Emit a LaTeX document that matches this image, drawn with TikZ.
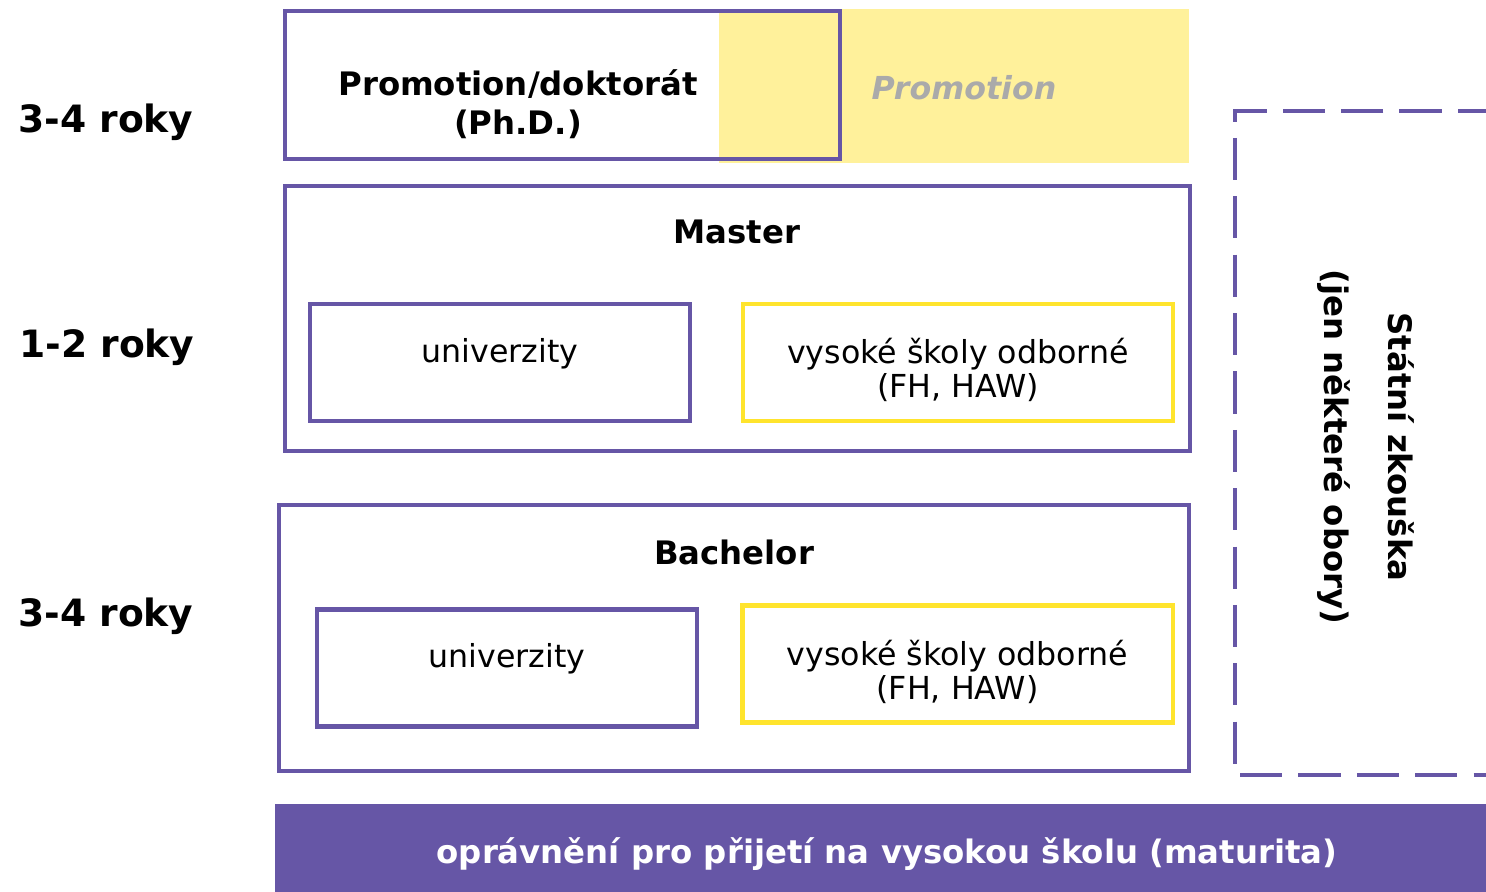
\documentclass[tikz,border=0pt]{standalone}
\usepackage{fontspec}
\setmainfont{DejaVu Sans}
\usetikzlibrary{positioning}
\definecolor{lila}{RGB}{102,86,166}
\definecolor{zluta}{RGB}{255,228,45}
\definecolor{svzluta}{RGB}{255,241,155}
\definecolor{seda}{RGB}{170,170,170}

\begin{document}
\begin{tikzpicture}[x=0.01cm,y=-0.01cm,
  ramec/.style={draw=lila, line width=1.2pt, inner sep=0pt},
  uni/.style={ramec, minimum width=3.8cm, minimum height=1.17cm},
  fh/.style={draw=zluta, line width=1.2pt, inner sep=0pt, minimum width=4.3cm, minimum height=1.17cm},
  popis/.style={align=center, font=\fontsize{9}{9.9}\selectfont},
  nadpis/.style={font=\bfseries\fontsize{9.2}{11}\selectfont, align=center},
  roky/.style={font=\bfseries\fontsize{10.7}{12}\selectfont}]
  \useasboundingbox (0,0) rectangle (1486,892);
  \clip (0,0) rectangle (1486,892);

  % roky vlevo
  \node[roky] (r1) at (106,122) {3-4 roky};
  \node[roky] (r2) at (107,347) {1-2 roky};
  \node[roky] (r3) at (106,616) {3-4 roky};

  % promotion
  \fill[svzluta] (719,9) rectangle (1189,163);
  \node[ramec, minimum width=5.55cm, minimum height=1.48cm] (phd) at (562.5,85) {};
  \node[nadpis] (phdtext) at (518,104) {Promotion/doktorát\\(Ph.D.)};
  \node[font=\bfseries\itshape\fontsize{9}{11}\selectfont, text=seda] (promo) at (964,88) {Promotion};

  % master
  \node[ramec, minimum width=9.05cm, minimum height=2.65cm] (master) at (737.5,318.5) {};
  \node[nadpis] (mastertext) at (737,232) {Master};
  \node[uni] (muni) at (500,362.5) {};
  \node[popis] (munitext) at (500,354) {univerzity};
  \node[fh] (mfh) at (958,362.5) {};
  \node[popis] (mfhtext) at (958,370) {vysoké školy odborné\\(FH, HAW)};

  % bachelor
  \node[ramec, minimum width=9.1cm, minimum height=2.66cm] (bachelor) at (734,638) {};
  \node[nadpis] (bachelortext) at (734,552) {Bachelor};
  \node[uni] (buni) at (507,668) {};
  \node[popis] (bunitext) at (507,659) {univerzity};
  \node[fh] (bfh) at (957.5,664) {};
  \node[popis] (bfhtext) at (957.5,672) {vysoké školy odborné\\(FH, HAW)};

  % statni zkouska
  \draw[lila, line width=1.2pt, dash pattern=on 12pt off 4.6pt] (1500,111) -- (1235,111) -- (1235,775) -- (1500,775);
  \node[rotate=-90, nadpis] (zkouska) at (1366,447) {Státní zkouška\\[7pt](jen některé obory)};

  % maturita
  \node[fill=lila, anchor=north west, minimum width=12.3cm, minimum height=0.95cm] (maturita) at (274,803) {};
  \node[nadpis, text=white] (maturitatext) at (887,854) {oprávnění pro přijetí na vysokou školu (maturita)};
\end{tikzpicture}
\end{document}
